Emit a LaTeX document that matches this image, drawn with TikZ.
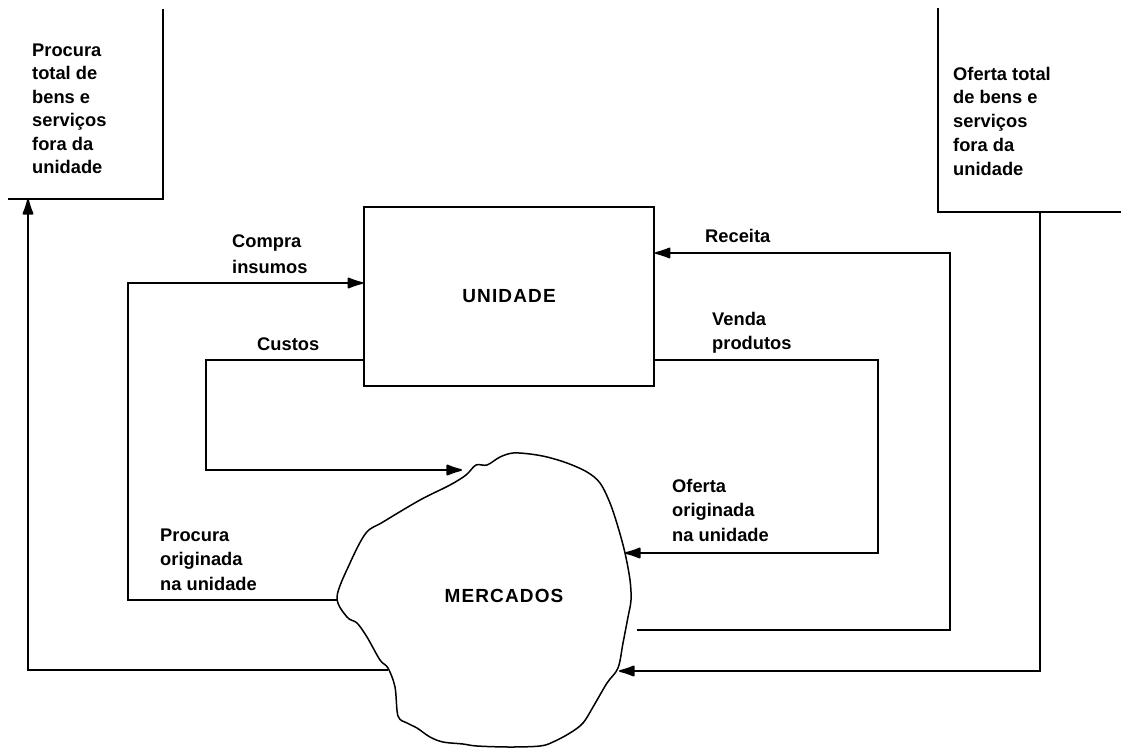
\documentclass[tikz,border=0pt]{standalone}
\usepackage{fontspec}
\setmainfont{Liberation Sans}
\usetikzlibrary{arrows.meta}
\newcommand\myfont{\fontsize{18.3}{23.5}\selectfont\bfseries}
\newcommand\capsfont{\fontsize{19}{23.5}\selectfont\bfseries\addfontfeature{LetterSpace=6}}
\tikzset{
  ln/.style={line width=1.8pt, line join=miter},
  arr/.style={ln, -{Latex[length=19pt,width=12pt,round]}},
  lbl/.style={anchor=north west, inner sep=0pt, align=left, font=\myfont},
}
\begin{document}
\begin{tikzpicture}[x=1pt,y=-1pt]
\useasboundingbox (0,0) rectangle (1121,748);
% outside boxes (open)
\coordinate (tlA) at (8,199);
\coordinate (tlB) at (163,199);
\coordinate (tlC) at (163,9);
\coordinate (trA) at (938,8);
\coordinate (trB) at (938,212);
\coordinate (trC) at (1121,212);
\draw[ln] (tlA) -- (tlB) -- (tlC);
\draw[ln] (trA) -- (trB) -- (trC);
\coordinate (tlin) at (28,199);
\coordinate (trout) at (1040,212);
\node[lbl] (tltext) at (32,43.3) {Procura\\total de\\bens e\\serviços\\fora da\\unidade};
\node[lbl, font=\fontsize{18.3}{23.8}\selectfont\bfseries] (trtext) at (953,66.6) {Oferta total\\de bens e\\serviços\\fora da\\unidade};
% unit
\node[draw, ln, minimum width=290pt, minimum height=179pt, inner sep=0pt, font=\capsfont] (unid) at (509,296.5) {UNIDADE};
% market blob
\draw[line width=1.5pt] plot[smooth cycle, tension=0.55] coordinates {
 (337,597) (350,563) (366,533) (383,522) (420,500) (450,485) (466,475) (476,465)
 (487,465) (500,457) (513,453) (530,454) (547,457) (567,463) (587,472) (600,483)
 (610,503) (618,527) (625,553) (630,580) (631,600) (628,617) (623,643) (618,668)
 (607,683) (593,707) (583,723) (570,733) (553,742) (540,746) (510,747) (477,746)
 (463,744) (443,742) (430,737) (417,728) (407,723) (398,716) (395,687) (388,668)
 (380,660) (367,637) (357,623) (347,617)};
\node[inner sep=0pt, anchor=base, font=\capsfont] (merc) at (504,602) {MERCADOS};
\coordinate (bPL) at (338,600);
\coordinate (bOL) at (388,670);
\coordinate (bC) at (462,470);
\coordinate (bO) at (625,553);
\coordinate (bR) at (637,630);
\coordinate (bT) at (619,671);
\coordinate (yCo) at (0,283);
\coordinate (yCu) at (0,360);
\coordinate (yRe) at (0,253);
% connectors
\draw[arr] (bPL) -- (128,600) -- (128,283) -- (unid.west |- yCo);
\draw[arr] (unid.west |- yCu) -- (206,360) -- (206,470) -- (bC);
\draw[arr] (bOL) -- (28,670) -- (tlin);
\draw[arr] (unid.east |- yCu) -- (878,360) -- (878,553) -- (bO);
\draw[arr] (bR) -- (950,630) -- (950,253) -- (unid.east |- yRe);
\draw[arr] (trout) -- (1040,671) -- (bT);
% labels
\node[lbl, font=\fontsize{18.3}{26}\selectfont\bfseries] (lco) at (232,234.6) {Compra\\insumos};
\node[lbl] (lcu) at (257,337.3) {Custos};
\node[lbl] (lre) at (705,228.6) {Receita};
\node[lbl, font=\fontsize{18.3}{24}\selectfont\bfseries] (lve) at (712,311.6) {Venda\\produtos};
\node[lbl, font=\fontsize{18.3}{24.5}\selectfont\bfseries] (lof) at (672,478.6) {Oferta\\originada\\na unidade};
\node[lbl, font=\fontsize{18.3}{24.5}\selectfont\bfseries] (lpr) at (160,528.6) {Procura\\originada\\na unidade};
\end{tikzpicture}
\end{document}
